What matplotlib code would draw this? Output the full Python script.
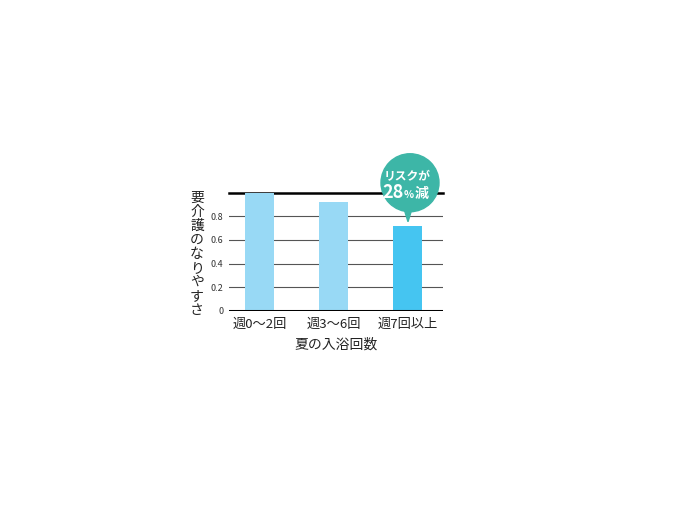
import numpy as np
import matplotlib.pyplot as plt
from matplotlib.patches import Circle, Polygon
from matplotlib.transforms import ScaledTranslation

plt.rcParams['font.family'] = ['Noto Sans CJK JP', 'DejaVu Sans']

# data
categories = ['週0～2回', '週3～6回', '週7回以上']
values = [1.0, 0.92, 0.72]
yticks = [0, 0.2, 0.4, 0.6, 0.8]
ylabel = '要介護のなりやすさ'
xlabel = '夏の入浴回数'

bar_colors = ['#98d9f5', '#98d9f5', '#45c5f1']
bubble_color = '#3db6a7'

fig = plt.figure(figsize=(6.79, 5.20), dpi=100)
ax = fig.add_axes([0.3373, 0.4025, 0.3152, 0.2269])

x = np.arange(len(categories))
ax.bar(x, values, width=0.39, color=bar_colors, zorder=2)

ax.set_xlim(-0.41, 2.48)
ax.set_ylim(0, 1.0)

# horizontal rules
for t in yticks[1:]:
    ax.axhline(t, color='#555555', lw=0.8, zorder=1)
ax.axhline(0, color='black', lw=2.2, zorder=3)
ax.axhline(1.0, color='black', lw=1.8, zorder=1, clip_on=False)

for s in ax.spines.values():
    s.set_visible(False)

ax.set_yticks(yticks)
ax.set_yticklabels(['0', '0.2', '0.4', '0.6', '0.8'], fontsize=6.5, color='#333333')
ax.tick_params(axis='y', length=0, pad=4)
ax.set_xticks(x)
ax.set_xticklabels(categories, fontsize=9.5, color='#222222')
ax.tick_params(axis='x', length=0, pad=5)
ax.set_xlabel(xlabel, fontsize=10, color='#222222', labelpad=5)

# vertical y label, one character per line
fig.text(197 / 679, 1 - 254 / 520, '\n'.join(ylabel), fontsize=10, color='#222222',
         ha='center', va='center', linespacing=1.0)

# callout bubble above the last bar (offsets in inches from the bar top)
anchor = fig.dpi_scale_trans + ScaledTranslation(x[2], values[2], ax.transData)
ax.add_patch(Circle((0.025, 0.43), 0.29, color=bubble_color, transform=anchor,
                    clip_on=False, zorder=5))
ax.add_patch(Polygon([(-0.035, 0.17), (0.045, 0.17), (0.005, 0.04)], closed=True,
                     color=bubble_color, transform=anchor, clip_on=False, zorder=5))
ax.text(-0.005, 0.49, 'リスクが', transform=anchor, fontsize=8.5, color='white',
        fontweight='bold', ha='center', va='center', zorder=6)
ax.text(-0.04, 0.33, '28', transform=anchor, fontsize=13, color='white',
        fontweight='bold', ha='right', va='center', zorder=6)
ax.text(-0.04, 0.31, '%', transform=anchor, fontsize=7.5, color='white',
        fontweight='bold', ha='left', va='center', zorder=6)
ax.text(0.07, 0.32, '減', transform=anchor, fontsize=10, color='white',
        fontweight='bold', ha='left', va='center', zorder=6)

fig.savefig('out.png', dpi=100)
